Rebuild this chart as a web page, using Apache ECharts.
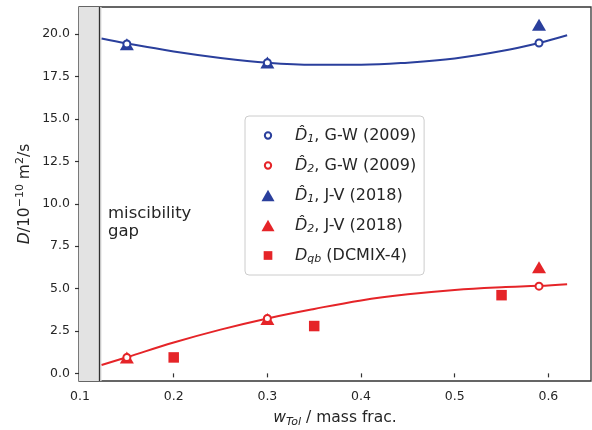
<!DOCTYPE html>
<html><head><meta charset="utf-8">
<script src="https://cdn.jsdelivr.net/npm/echarts@6/dist/echarts.min.js"></script>
<style>html,body{margin:0;padding:0;background:#fff}#c{width:592px;height:430px}</style>
</head><body><div id="c"></div>
<script>
// ---- data ----
const xTicks = [0.1, 0.2, 0.3, 0.4, 0.5, 0.6];
const yTicks = [0, 2.5, 5, 7.5, 10, 12.5, 15, 17.5, 20];
const xLimits = [0.0989, 0.6455];
const yLimits = [-0.45, 21.6];
const gapEdge = 0.123;
const gwX = [0.15, 0.30, 0.59];
const gwD1 = [19.42, 18.32, 19.48];
const gwD2 = [0.94, 3.24, 5.14];
const jvX = [0.15, 0.30, 0.59];
const jvD1 = [19.40, 18.33, 20.55];
const jvD2 = [0.94, 3.20, 6.25];
const dcX = [0.20, 0.35, 0.55];
const dcDqb = [0.94, 2.79, 4.61];
const fitX = [0.123, 0.15, 0.2, 0.25, 0.3, 0.35, 0.4, 0.45, 0.5, 0.55, 0.59, 0.62];
const fitD1 = [19.74, 19.45, 18.98, 18.6, 18.32, 18.2, 18.2, 18.32, 18.56, 19.0, 19.48, 19.93];
const fitD2 = [0.49, 0.95, 1.82, 2.58, 3.24, 3.8, 4.3, 4.66, 4.92, 5.08, 5.16, 5.26];
const legendNames = ['D1GW', 'D2GW', 'D1JV', 'D2JV', 'Dqb'];
const legendLabels = {
  D1GW: ['1', ', G-W (2009)', true],
  D2GW: ['2', ', G-W (2009)', true],
  D1JV: ['1', ', J-V (2018)', true],
  D2JV: ['2', ', J-V (2018)', true],
  Dqb: ['qb', ' (DCMIX-4)', false]
};

const BLUE = '#2a3f9c';
const RED = '#e52428';
const FONT = 'DejaVu Sans';
const TXT = '#262626';
const zip = (a, b) => a.map((v, i) => [v, b[i]]);

const ICON_CIRCLE = 'path://M0 0M20 20M14.5 10A4.5 4.5 0 1 1 5.5 10A4.5 4.5 0 1 1 14.5 10Z';
const ICON_TRI = 'path://M0 0M20 20M0.7 18.2L19.3 18.2L10 1.8Z';
const ICON_SQ = 'path://M0 0M20 20M3.8 3.8L16.2 3.8L16.2 16.2L3.8 16.2Z';

const chart = echarts.init(document.getElementById('c'), null, {renderer: 'canvas'});
chart.setOption({
  animation: false,
  textStyle: {fontFamily: FONT},
  grid: {left: 79, right: 1, top: 7, bottom: 49, outerBoundsMode: 'none', containLabel: false,
    show: true, borderColor: '#333', borderWidth: 1.3, backgroundColor: 'transparent'},
  xAxis: {
    type: 'value', min: xLimits[0], max: xLimits[1],
    splitLine: {show: false},
    axisLine: {show: false},
    axisTick: {show: true, inside: false, length: 4, customValues: xTicks, lineStyle: {color: '#333', width: 1.2}},
    axisLabel: {customValues: xTicks, margin: 9, fontSize: 12.5, color: TXT, fontFamily: FONT, formatter: v => v.toFixed(1)},
    name: '{i|w}{s|Tol}{t| / mass frac.}',
    nameLocation: 'middle', nameGap: 27, nameMoveOverlap: false,
    nameTextStyle: {
      rich: {
        i: {fontStyle: 'italic', fontSize: 15.5, fontFamily: FONT, color: TXT, lineHeight: 20},
        s: {fontStyle: 'italic', fontSize: 11, fontFamily: FONT, color: TXT, lineHeight: 12, padding: [8, 0, 0, 0]},
        t: {fontSize: 15.5, fontFamily: FONT, color: TXT, lineHeight: 20}
      }
    }
  },
  yAxis: {
    type: 'value', min: yLimits[0], max: yLimits[1],
    splitLine: {show: false},
    axisLine: {show: false},
    axisTick: {show: true, inside: false, length: 4, customValues: yTicks, lineStyle: {color: '#333', width: 1.2}},
    axisLabel: {customValues: yTicks, margin: 9, fontSize: 12.5, color: TXT, fontFamily: FONT, formatter: v => v.toFixed(1)},
    name: '{i|D}{t|/10}{p|−10}{t| m}{p|2}{t|/s}',
    nameLocation: 'middle', nameGap: 44, nameRotate: 90, nameMoveOverlap: false,
    nameTextStyle: {
      rich: {
        i: {fontStyle: 'italic', fontSize: 15.5, fontFamily: FONT, color: TXT, lineHeight: 20},
        p: {fontSize: 11, fontFamily: FONT, color: TXT, lineHeight: 12, padding: [0, 0, 10, 0]},
        t: {fontSize: 15.5, fontFamily: FONT, color: TXT, lineHeight: 20}
      }
    }
  },
  legend: {
    orient: 'vertical', left: 245, top: 116,
    padding: [10, 8, 10, 15],
    itemWidth: 44, itemHeight: 14, itemGap: 11,
    backgroundColor: 'rgba(255,255,255,0.85)', borderColor: '#cccccc', borderWidth: 1, borderRadius: 4,
    data: [
      {name: 'D1GW', icon: ICON_CIRCLE, itemStyle: {color: '#fff', borderColor: BLUE, borderWidth: 2, opacity: 1}},
      {name: 'D2GW', icon: ICON_CIRCLE, itemStyle: {color: '#fff', borderColor: RED, borderWidth: 2, opacity: 1}},
      {name: 'D1JV', icon: ICON_TRI, itemStyle: {color: BLUE, borderWidth: 0, opacity: 1}},
      {name: 'D2JV', icon: ICON_TRI, itemStyle: {color: RED, borderWidth: 0, opacity: 1}},
      {name: 'Dqb', icon: ICON_SQ, itemStyle: {color: RED, borderWidth: 0, opacity: 1}}
    ],
    formatter: name => {
      const l = legendLabels[name];
      return (l[2] ? '{d|D\u0302}' : '{d|D}') + '{s|' + l[0] + '}{t|' + l[1] + '}';
    },
    textStyle: {
      rich: {
        d: {fontStyle: 'italic', fontSize: 16, fontFamily: FONT, color: TXT, lineHeight: 20},
        s: {fontStyle: 'italic', fontSize: 11, fontFamily: FONT, color: TXT, lineHeight: 12, padding: [8, 0, 0, 0]},
        t: {fontSize: 16, fontFamily: FONT, color: TXT, lineHeight: 20}
      }
    }
  },
  graphic: [{
    type: 'text', left: 108, top: 205, z: 10,
    style: {text: 'miscibility\ngap', font: '16.5px "DejaVu Sans"', fill: TXT, lineHeight: 18}
  }],
  series: [
    {
      name: 'fitD1', type: 'line', data: zip(fitX, fitD1), showSymbol: false, smooth: 0.4, z: 2,
      lineStyle: {color: BLUE, width: 2}, itemStyle: {color: BLUE},
      markArea: {silent: true, itemStyle: {color: '#e3e3e3'}, data: [[{xAxis: xLimits[0]}, {xAxis: gapEdge}]]},
      markLine: {silent: true, symbol: 'none', label: {show: false}, lineStyle: {color: '#333', width: 1.3, type: 'solid'}, data: [{xAxis: gapEdge}]}
    },
    {name: 'fitD2', type: 'line', data: zip(fitX, fitD2), showSymbol: false, smooth: 0.4, z: 2,
      lineStyle: {color: RED, width: 2}, itemStyle: {color: RED}},
    {name: 'D1JV', type: 'scatter', data: zip(jvX, jvD1), symbol: 'triangle', symbolSize: [14, 12], z: 3, itemStyle: {color: BLUE, opacity: 1}},
    {name: 'D2JV', type: 'scatter', data: zip(jvX, jvD2), symbol: 'triangle', symbolSize: [14, 12], z: 3, itemStyle: {color: RED, opacity: 1}},
    {name: 'Dqb', type: 'scatter', data: zip(dcX, dcDqb), symbol: 'rect', symbolSize: 10.5, z: 3, itemStyle: {color: RED, opacity: 1}},
    {name: 'D1GW', type: 'scatter', data: zip(gwX, gwD1), symbol: 'circle', symbolSize: 7, z: 4, itemStyle: {color: '#fff', borderColor: BLUE, borderWidth: 2, opacity: 1}},
    {name: 'D2GW', type: 'scatter', data: zip(gwX, gwD2), symbol: 'circle', symbolSize: 7, z: 4, itemStyle: {color: '#fff', borderColor: RED, borderWidth: 2, opacity: 1}}
  ]
});
</script>
</body></html>
